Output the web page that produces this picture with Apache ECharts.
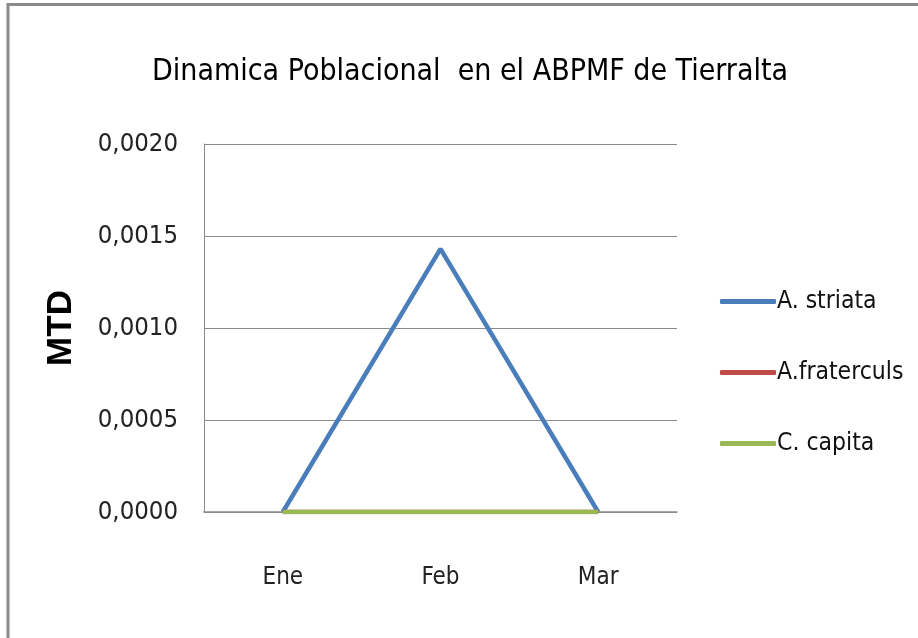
<!DOCTYPE html>
<html>
<head>
<meta charset="utf-8">
<script src="https://cdn.jsdelivr.net/npm/echarts@6/dist/echarts.min.js"></script>
<style>html,body{margin:0;padding:0;background:#fff;}#c{width:918px;height:638px;}</style>
</head>
<body>
<div id="c"></div>
<script>
var categories = ['Ene', 'Feb', 'Mar'];
var seriesNames = ['A. striata', 'A.fraterculs', 'C. capita'];
var aStriata = [0, 0.00143, 0];
var aFraterculs = [0, 0, 0];
var cCapita = [0, 0, 0];
var yTicks = [0, 0.0005, 0.0010, 0.0015, 0.0020];

var narrow = '"Liberation Sans Narrow", "DejaVu Sans Condensed", Roboto, sans-serif';
var chart = echarts.init(document.getElementById('c'));
var colors = ['#4A7EBB', '#BE4B48', '#98B954'];
var values = [aStriata, aFraterculs, cCapita];
chart.setOption({
  animation: false,
  backgroundColor: '#fff',
  title: {
    text: 'Dinamica Poblacional  en el ABPMF de Tierralta',
    left: 147, top: 52,
    textStyle: { fontFamily: narrow, fontSize: 30, fontWeight: 'normal', color: '#000' }
  },
  graphic: [
    { type: 'line', shape: { x1: 7, y1: 4.5, x2: 918, y2: 4.5 }, style: { stroke: '#8a8a8a', lineWidth: 3 } },
    { type: 'line', shape: { x1: 8, y1: 3, x2: 8, y2: 638 }, style: { stroke: '#8a8a8a', lineWidth: 3 } }
  ],
  legend: {
    orient: 'vertical', left: 715, top: 284, itemGap: 46,
    icon: 'roundRect', itemWidth: 56, itemHeight: 5,
    textStyle: { fontFamily: narrow, fontSize: 24.5, color: '#111', padding: [0, 0, 0, -4] },
    data: seriesNames
  },
  grid: { left: 204, right: 241, top: 144, bottom: 126 },
  xAxis: {
    type: 'category', data: categories, boundaryGap: true,
    axisLine: { lineStyle: { color: '#8a8a8a', width: 1.5 } },
    axisTick: { show: false },
    axisLabel: { margin: 54, fontFamily: narrow, fontSize: 24, color: '#222' }
  },
  yAxis: {
    type: 'value', min: yTicks[0], max: yTicks[yTicks.length - 1], interval: 0.0005,
    name: 'MTD', nameLocation: 'middle', nameRotate: 90, nameGap: 125,
    nameTextStyle: { fontFamily: '"Liberation Sans", Arial, sans-serif', fontWeight: 'bold', fontSize: 35, color: '#000' },
    axisLine: { show: true, lineStyle: { color: '#8a8a8a', width: 1 } },
    axisTick: { show: false },
    splitLine: { lineStyle: { color: '#8a8a8a', width: 1 } },
    axisLabel: {
      margin: 26, fontFamily: narrow, fontSize: 25.5, color: '#222',
      formatter: function (v) { return v.toFixed(4).replace('.', ','); }
    }
  },
  series: seriesNames.map(function (n, i) {
    return {
      name: n, type: 'line', data: values[i], symbol: 'none',
      lineStyle: { color: colors[i], width: 4.5 }, itemStyle: { color: colors[i] }
    };
  })
});
</script>
</body>
</html>
